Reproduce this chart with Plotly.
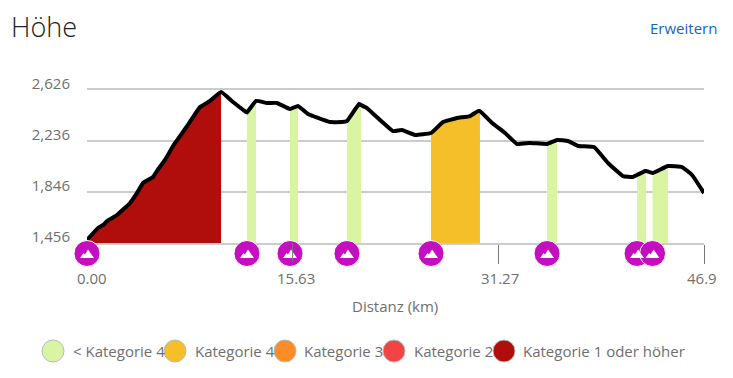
import plotly.graph_objects as go

km = [0, 0.84, 1.24, 1.52, 2.28, 3.27, 3.78, 4.26, 5.02, 5.42, 5.93, 6.54, 7.58, 8.59, 9.35, 10.19, 11.10, 12.09, 12.16, 12.85,
      13.68, 14.44, 15.43, 16.04, 16.80, 17.56, 18.47, 19.38, 19.76, 19.99, 20.68, 20.83, 21.28, 22.27,
      23.26, 23.95, 24.93, 26.15, 27.06, 28.13, 29.11, 29.72, 29.87, 30.79, 31.78, 32.69, 33.68, 34.97,
      35.73, 36.56, 37.32, 38.54, 39.60, 40.74, 41.50, 41.81, 42.42, 42.49, 42.99, 44.16, 45.23, 45.99, 46.9]
elev = [1479, 1571, 1594, 1624, 1670, 1762, 1836, 1915, 1961, 2022, 2091, 2198, 2345, 2496, 2542, 2611, 2534, 2458, 2454, 2542,
        2527, 2527, 2481, 2504, 2442, 2412, 2381, 2381, 2389, 2420, 2519, 2511, 2488, 2397,
        2312, 2320, 2282, 2297, 2381, 2412, 2427, 2465, 2465, 2374, 2297, 2213, 2221, 2213,
        2244, 2236, 2198, 2190, 2068, 1968, 1961, 1976, 2007, 2007, 1991, 2045, 2037, 1976, 1838]

climb_start = [0, 12.16, 15.43, 19.76, 26.15, 34.97, 41.81, 42.99]
climb_end = [10.19, 12.85, 16.04, 20.83, 29.87, 35.73, 42.49, 44.16]
climb_cat = ["k1", "k0", "k0", "k0", "k4", "k0", "k0", "k0"]

cat_keys = ["k0", "k4", "k3", "k2", "k1"]
cat_names = ["< Kategorie 4", "Kategorie 4", "Kategorie 3", "Kategorie 2", "Kategorie 1 oder höher"]
cat_colors = ["#d9f5a3", "#f5bf29", "#fb8c27", "#f44343", "#b00d0d"]

y_ticks = [1456, 1846, 2236, 2626]
x_ticks = [0, 15.63, 31.27, 46.9]
x_tick_text = ["0.00", "15.63", "31.27", "46.9"]

W, H = 733, 378
L, R, T, B = 87, 704, 90, 243
ROW_B = 264  # bottom of the strip that holds the climb markers
GREY = "#6f6f6f"
FONT = "Open Sans"
X_MAX = x_ticks[-1]


def px(x):
    return (x - L) / (R - L)


def py(y):
    return (ROW_B - y) / (ROW_B - T)


split = py(B)

fig = go.Figure()
color_of = dict(zip(cat_keys, cat_colors))
for s, e, c in zip(climb_start, climb_end, climb_cat):
    xs = [k for k in km if s <= k <= e]
    ys = [v for k, v in zip(km, elev) if s <= k <= e]
    fig.add_trace(go.Scatter(x=xs, y=ys, mode="lines", line=dict(width=0), fill="tozeroy",
                             fillcolor=color_of[c], hoverinfo="skip", showlegend=False))

fig.add_trace(go.Scatter(x=km, y=elev, mode="lines", showlegend=False,
                         line=dict(color="#000000", width=4, shape="spline", smoothing=0.3)))

for s in climb_start:
    fig.add_trace(go.Scatter(x=[s], y=[1], yaxis="y2", mode="markers", cliponaxis=False, showlegend=False,
                             hoverinfo="skip",
                             marker=dict(size=26, color="#c30fbf", line=dict(color="#ffffff", width=1))))
    fig.add_shape(type="path", xref="paper", yref="paper", xsizemode="pixel", ysizemode="pixel",
                  xanchor=s / X_MAX, yanchor=py(253.5), layer="above", fillcolor="#ffffff", line_width=0,
                  path="M -7 -4.5 L -3.5 0.5 L -2 -1 L 1 4 L 7 -4.5 Z")

fig.add_shape(type="line", xref="x", yref="paper", x0=x_ticks[1], x1=x_ticks[1], y0=py(243), y1=py(262),
              layer="above", line=dict(color="#777777", width=1))

fig.update_xaxes(range=[0, X_MAX], tickvals=x_ticks, ticktext=x_tick_text, showticklabels=False, anchor="y",
                 ticks="outside", ticklen=19, tickcolor="#777777", tickwidth=1,
                 showgrid=False, zeroline=False, showline=True, mirror=True, linecolor="#cccccc", linewidth=1.5)
fig.update_layout(
    yaxis=dict(domain=[split, 1], range=[1456, 2626], tickvals=y_ticks, tickformat=",d", showgrid=True,
               gridcolor="#cccccc", gridwidth=1.5, zeroline=False, showline=False, ticks="",
               ticklabelstandoff=16, ticklabelshift=-6, tickfont=dict(family=FONT, size=15, color=GREY)),
    yaxis2=dict(domain=[0, split], range=[0, 2], visible=False, anchor="x", fixedrange=True),
)

shifts = [5, 3, 2, -2]
for v, t, sh in zip(x_ticks, x_tick_text, shifts):
    fig.add_annotation(x=v, xref="x", y=py(277.5), yref="paper", text=t, showarrow=False, xshift=sh,
                       font=dict(family=FONT, size=15, color=GREY), xanchor="center", yanchor="middle")

fig.add_annotation(x=px(395), y=py(306), xref="paper", yref="paper", text="Distanz (km)", showarrow=False,
                   font=dict(family=FONT, size=15, color=GREY), xanchor="center", yanchor="middle")
fig.add_annotation(x=px(8.5), y=py(26.5), xref="paper", yref="paper", text="Höhe", showarrow=False,
                   font=dict(family=FONT, size=27, color="#222222", weight=300), xanchor="left", yanchor="middle")
fig.add_annotation(x=px(719), y=py(28), xref="paper", yref="paper", text="Erweitern", showarrow=False,
                   font=dict(family=FONT, size=15, color="#1565c0"), xanchor="right", yanchor="middle")

legend_cx = [53, 175, 285, 394, 504]
legend_tx = [71, 193, 302, 412, 521]
LEG_Y = 351
for cx, tx, name, col in zip(legend_cx, legend_tx, cat_names, cat_colors):
    fig.add_shape(type="circle", xref="paper", yref="paper", x0=px(cx - 11), x1=px(cx + 11),
                  y0=py(LEG_Y + 11), y1=py(LEG_Y - 11), fillcolor=col, line=dict(color="#bbbbbb", width=1))
    fig.add_annotation(x=px(tx), y=py(LEG_Y), xref="paper", yref="paper", text=name, showarrow=False,
                       font=dict(family=FONT, size=15, color=GREY), xanchor="left", yanchor="middle")

fig.update_layout(width=W, height=H, margin=dict(l=L, r=W - R, t=T, b=H - ROW_B, autoexpand=False),
                  paper_bgcolor="#ffffff", plot_bgcolor="#ffffff", showlegend=False,
                  font=dict(family=FONT))

fig.write_html("out.html", config={"displayModeBar": False},
               post_script="document.body.style.margin='0';document.documentElement.style.overflow='hidden';")
